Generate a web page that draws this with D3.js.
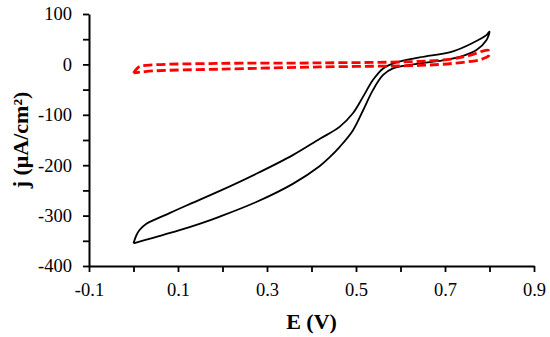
<!DOCTYPE html>
<html>
<head>
<meta charset="utf-8">
<script src="https://cdn.jsdelivr.net/npm/d3@7"></script>
<style>
  body { margin: 0; background: #fff; }
  text { font-family: "Liberation Serif", "Times New Roman", serif; }
</style>
</head>
<body>
<script>
// black CV: scan up from 0 V, then back
const blackUp = [[0.0,-355],[0.0065,-339],[0.014,-328],[0.029,-316],[0.044,-309.5],[0.081,-295],
  [0.119,-280],[0.194,-251],[0.276,-217],[0.358,-180],[0.418,-148],[0.463,-124],[0.493,-97],
  [0.516,-64],[0.538,-31],[0.561,-8],[0.591,4],[0.643,14],[0.718,26],[0.763,43],[0.793,58],[0.8,65]];
const blackDown = [[0.8,65],[0.793,48],[0.77,28],[0.733,15],[0.688,7],[0.643,2],[0.583,-8],
  [0.561,-21],[0.538,-51],[0.516,-91],[0.493,-131],[0.463,-164],[0.441,-184],[0.418,-202],
  [0.358,-237],[0.276,-273],[0.194,-302],[0.15,-316],[0.1,-330],[0.044,-344],[0.0,-355]];

// red dashed CV
const redUp = [[0.0,-17],[0.008,-8],[0.014,-4],[0.044,-1],[0.194,2],[0.418,3],[0.643,6],
  [0.718,11],[0.755,18],[0.797,28],[0.8,24]];
const redDown = [[0.8,24],[0.798,17],[0.79,13],[0.778,9],[0.718,2],[0.643,-2],[0.418,-5],
  [0.194,-9.5],[0.044,-13],[0.0,-17]];

const xTicks = [-0.1, 0, 0.1, 0.2, 0.3, 0.4, 0.5, 0.6, 0.7, 0.8, 0.9];
const xLabels = ["-0.1", "", "0.1", "", "0.3", "", "0.5", "", "0.7", "", "0.9"];
const yTicks = [100, 50, 0, -50, -100, -150, -200, -250, -300, -350, -400];
const yLabels = ["100", "", "0", "", "-100", "", "-200", "", "-300", "", "-400"];

const width = 550, height = 337;
const padL = 89, padR = 534, padT = 14, padB = 266;

const x = d3.scaleLinear().domain([-0.1, 0.9]).range([padL, padR]);
const y = d3.scaleLinear().domain([-400, 100]).range([padB, padT]);

const svg = d3.select('body').append('svg')
  .attr('width', width)
  .attr('height', height);

const line = d3.line()
  .x(d => x(d[0]))
  .y(d => y(d[1]))
  .curve(d3.curveCatmullRom.alpha(0.5));

svg.append('path')
  .attr('d', line(blackUp.concat(blackDown.slice(1))))
  .attr('fill', 'none')
  .attr('stroke', '#000')
  .attr('stroke-width', 1.8);

svg.append('path')
  .attr('d', line(redUp.concat(redDown.slice(1))))
  .attr('fill', 'none')
  .attr('stroke', '#ff0000')
  .attr('stroke-width', 2.8)
  .attr('stroke-dasharray', '9,4');

const xAxis = d3.axisBottom(x)
  .tickValues(xTicks)
  .tickFormat((d, i) => xLabels[i])
  .tickSize(6)
  .tickSizeOuter(0)
  .tickPadding(11);

const yAxis = d3.axisLeft(y)
  .tickValues(yTicks)
  .tickFormat((d, i) => yLabels[i])
  .tickSize(6)
  .tickSizeOuter(0)
  .tickPadding(11);

const gx = svg.append('g')
  .attr('transform', `translate(0, ${padB})`)
  .call(xAxis);

const gy = svg.append('g')
  .attr('transform', `translate(${padL}, 0)`)
  .call(yAxis);

[gx, gy].forEach(g => {
  g.select('.domain').attr('stroke-width', 2);
  g.selectAll('.tick line').attr('stroke-width', 1.8);
  g.selectAll('.tick text')
    .attr('font-family', '"Liberation Serif", serif')
    .attr('font-size', 18.5)
    .attr('fill', '#000');
});

svg.append('text')
  .attr('x', (padL + padR) / 2)
  .attr('y', 329)
  .attr('text-anchor', 'middle')
  .attr('font-size', 22)
  .attr('font-weight', 'bold')
  .text('E (V)');

svg.append('text')
  .attr('transform', 'translate(28, 140) rotate(-90)')
  .attr('text-anchor', 'middle')
  .attr('font-size', 22)
  .attr('font-weight', 'bold')
  .text('j (μA/cm²)');
</script>
</body>
</html>
